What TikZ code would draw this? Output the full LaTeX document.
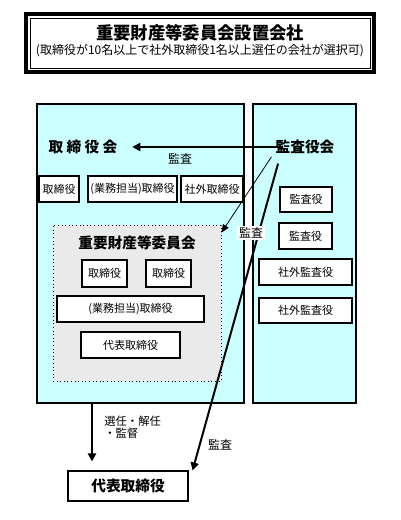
\documentclass[tikz,border=0pt]{standalone}
\usepackage{fontspec}
\setmainfont{Noto Sans CJK JP}
\usetikzlibrary{arrows.meta,fit}
\definecolor{lcyan}{HTML}{CCFFFF}
\definecolor{lgray}{HTML}{EAEAEA}
\begin{document}
\begin{tikzpicture}[x=0.75pt,y=-0.75pt,
  panel/.style={draw=black, fill=lcyan, line width=0.8pt, inner sep=0pt},
  rbox/.style={draw=black, fill=white, line width=0.8pt, inner sep=0pt},
  dotbox/.style={draw=black, dotted, fill=lgray, line width=0.7pt, inner sep=0pt},
  txt/.style={font=\fontsize{8.25}{10}\selectfont, inner sep=0pt},
  head/.style={font=\fontsize{11}{13}\selectfont\bfseries, inner sep=0pt},
  lab/.style={font=\fontsize{9}{11}\selectfont, inner sep=1.5pt},
  arr/.style={-{Triangle[length=6pt,width=6pt]}, line width=1.5pt},
  thinarr/.style={-{Triangle[length=6pt,width=5pt]}, line width=0.6pt}]
\useasboundingbox (0,0) rectangle (400,520);
% title
\node[fit={(26,14)(374,72)}, draw=black, line width=3pt, inner sep=0pt] (ttl) {};
\node[fit={(30,18)(370,68)}, draw=black, line width=0.6pt, inner sep=0pt] (ttlin) {};
\node[font=\fontsize{13}{15}\selectfont\bfseries, inner sep=0pt] (ttltxt) at (200,33) {重要財産等委員会設置会社};
\node[font=\fontsize{9}{11}\selectfont, inner sep=0pt] (ttlsub) at (200,51) {(取締役が10名以上で社外取締役1名以上選任の会社が選択可)};
% panels
\node[panel, fit={(37,104)(244,403)}] (lp) {};
\node[panel, fit={(253,104)(356,403)}] (rp) {};
\node[head] (kk) at (83,147) {取\hspace{2.5pt}締\hspace{2.5pt}役\hspace{2.5pt}会};
\node[head] (ka) at (305,147) {監査役会};
\node[rbox, fit={(39,176)(79,202)}, label={[txt]center:取締役}] (t1) {};
\node[rbox, fit={(88,176)(177,202)}, label={[txt]center:(業務担当)取締役}] (t2) {};
\node[rbox, fit={(181,176)(243,202)}, label={[txt]center:社外取締役}] (t3) {};
\node[rbox, fit={(280,187)(332,212)}, label={[txt]center:監査役}] (a1) {};
\node[rbox, fit={(279,223)(332,249)}, label={[txt]center:監査役}] (a2) {};
\node[rbox, fit={(259,259)(352,285)}, label={[txt]center:社外監査役}] (a3) {};
\node[rbox, fit={(259,298)(352,323)}, label={[txt]center:社外監査役}] (a4) {};
% committee
\node[dotbox, fit={(53,225)(221,381)}] (ib) {};
\node[head] (ih) at (137,243) {重要財産等委員会};
\node[rbox, fit={(82,260)(127,287)}, label={[txt]center:取締役}] (i1) {};
\node[rbox, fit={(146,260)(191,287)}, label={[txt]center:取締役}] (i2) {};
\node[rbox, fit={(57,296)(204,322)}, label={[txt]center:(業務担当)取締役}] (i3) {};
\node[rbox, fit={(81,332)(180,358)}, label={[txt]center:代表取締役}] (i4) {};
% bottom
\node[rbox, fit={(68,471)(188,501)}, label={[head]center:代表取締役}] (rep) {};
% arrows
\draw[arr, shorten >=11pt, shorten <=-6pt] (ka.west) -- (kk.east);
\node[lab] (l1) at (180,159) {監査};
\draw[thinarr] ([xshift=-3pt,yshift=-2pt]ka.south west) -- ([yshift=-6pt]ib.north east);
\draw[line width=1.5pt, -{Triangle[length=6pt,width=6pt]}] ([xshift=2pt,yshift=-7pt]ka.south west) -- ([xshift=3pt]rep.north east);
\node[lab, fill=white] (l2) at (251,233) {監査};
\node[lab] (l3) at (220,445) {監査};
\draw[arr, shorten >=6.75pt] (lp.south -| 92,0) -- (rep.north -| 92,0);
\node[font=\fontsize{8.5}{9}\selectfont, inner sep=0pt, anchor=north west, align=left] (l4) at (104,416) {選任・解任\\・監督};
\end{tikzpicture}
\end{document}
